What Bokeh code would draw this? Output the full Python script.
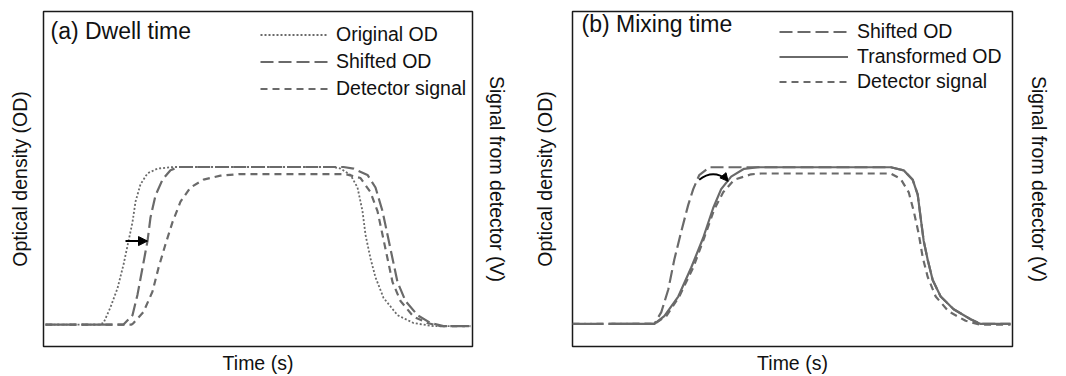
from bokeh.plotting import figure
from bokeh.layouts import row
from bokeh.models import (Range1d, LinearAxis, FixedTicker, Label, Arrow,
                          NormalHead)
from bokeh.embed import file_html
from bokeh.resources import INLINE

# ---------------- data (arbitrary time units / normalised OD) ----------------
# Panel (a) Dwell time
orig_t = [2, 55, 60, 67, 74, 80, 85, 89, 92, 97, 104, 114, 130, 290, 297, 307,
          314, 319, 322, 327, 332, 340, 354, 370, 390, 427]
orig_od = [0, 0, 0.01, 0.11, 0.23, 0.38, 0.53, 0.65, 0.78, 0.89, 0.96, 0.99,
           1.0, 1.0, 0.99, 0.95, 0.87, 0.72, 0.57, 0.42, 0.30, 0.17, 0.06,
           0.01, -0.01, -0.01]

shift_t = [2, 80, 89, 94, 99, 104, 107, 112, 119, 127, 135, 300, 310, 324,
           332, 339, 344, 349, 354, 362, 374, 387, 400, 427]
shift_od = [0, 0, 0.06, 0.19, 0.36, 0.53, 0.68, 0.82, 0.92, 0.98, 1.0, 1.0,
            0.99, 0.95, 0.87, 0.72, 0.57, 0.42, 0.27, 0.15, 0.06, 0.01,
            -0.01, -0.01]

det_t = [2, 88, 90, 100, 109, 115, 122, 129, 137, 147, 160, 177, 195, 302,
         317, 327, 334, 339, 344, 349, 357, 370, 384, 397, 427]
det_od = [0, 0, 0.01, 0.08, 0.21, 0.36, 0.51, 0.65, 0.78, 0.87, 0.92, 0.945,
          0.955, 0.955, 0.93, 0.84, 0.72, 0.57, 0.42, 0.27, 0.15, 0.05, 0.01,
          -0.01, -0.01]

arrow_a = {"t0": 82, "t1": 104, "od": 0.53}

# Panel (b) Mixing time
shiftb_t = [0, 82, 89, 96, 102, 109, 116, 121, 127, 137, 319, 332, 341, 346,
            349, 352, 356, 361, 369, 382, 399, 409, 439]
shiftb_od = [0, 0, 0.075, 0.22, 0.41, 0.59, 0.76, 0.86, 0.95, 1.0, 1.0, 0.98,
             0.92, 0.825, 0.675, 0.53, 0.41, 0.28, 0.175, 0.094, 0.03, 0.0,
             0.0]

trans_t = [39, 82, 92, 106, 119, 131, 141, 149, 159, 172, 186, 319, 332, 341,
           346, 349, 352, 356, 361, 369, 382, 399, 409, 439]
trans_od = [0, 0, 0.05, 0.175, 0.36, 0.55, 0.74, 0.86, 0.94, 0.99, 1.0, 1.0,
            0.98, 0.92, 0.825, 0.675, 0.53, 0.41, 0.28, 0.175, 0.094, 0.03,
            0.0, 0.0]

detb_t = [0, 82, 94, 107, 121, 132, 142, 151, 162, 179, 189, 319, 329, 337,
          342, 347, 351, 356, 364, 377, 394, 409, 439]
detb_od = [0, 0, 0.05, 0.175, 0.36, 0.55, 0.73, 0.84, 0.92, 0.955, 0.96, 0.96,
           0.925, 0.84, 0.72, 0.575, 0.425, 0.3, 0.175, 0.08, 0.02, -0.005,
           -0.005]

arrow_b = {"t0": 127, "t1": 155, "od": 0.92, "ct": 141, "cod": 0.99}

titles = ["(a) Dwell time", "(b) Mixing time"]
x_label = "Time (s)"
y_label_left = "Optical density (OD)"
y_label_right = "Signal from detector (V)"

# ---------------- styling ----------------
FONT = "Liberation Sans"
GREY = "#6a6a6a"
TXT = "#111111"
LBL_SIZE = "19.5px"


def make_panel(width, height, borders, xr, yr, standoffs):
    left, right, top, bottom = borders
    p = figure(width=width, height=height, x_range=Range1d(*xr),
               y_range=Range1d(*yr), output_backend="svg",
               toolbar_location=None, title=None,
               min_border_left=left, min_border_right=right,
               min_border_top=top, min_border_bottom=bottom)
    p.add_layout(LinearAxis(), "right")
    p.xgrid.visible = False
    p.ygrid.visible = False
    p.outline_line_color = "#1a1a1a"
    p.outline_line_width = 1.5
    p.background_fill_color = "white"
    p.border_fill_color = "white"
    labels = {"left": y_label_left, "right": y_label_right, "below": x_label}
    for side in ("left", "right", "below"):
        for ax in getattr(p, side):
            ax.ticker = FixedTicker(ticks=[])
            ax.axis_line_alpha = 0
            ax.major_tick_line_alpha = 0
            ax.minor_tick_line_alpha = 0
            ax.major_tick_out = 0
            ax.major_tick_in = 0
            ax.major_label_standoff = 0
            ax.axis_label = labels[side]
            ax.axis_label_text_font = FONT
            ax.axis_label_text_font_size = LBL_SIZE
            ax.axis_label_text_font_style = "normal"
            ax.axis_label_text_color = TXT
            ax.axis_label_standoff = standoffs[side]
    return p


def style_legend(p, loc, spacing, glyph_w, standoff):
    lg = p.legend[0]
    lg.location = loc
    lg.label_text_font = FONT
    lg.label_text_font_size = LBL_SIZE
    lg.label_text_color = TXT
    lg.glyph_width = glyph_w
    lg.glyph_height = 23
    lg.label_height = 23
    lg.label_standoff = standoff
    lg.spacing = spacing
    lg.padding = 0
    lg.margin = 0
    lg.border_line_alpha = 0
    lg.background_fill_alpha = 0


# ---- panel (a)
pa = make_panel(530, 376, (43, 58, 11, 29), (0, 429), (-0.139, 1.987),
                {"left": 13, "right": 13, "below": 5})
pa.line(orig_t, orig_od, line_color=GREY, line_width=1.8, line_dash="2 2",
        legend_label="Original OD")
pa.line(shift_t, shift_od, line_color=GREY, line_width=2.2, line_dash="13 5",
        legend_label="Shifted OD")
pa.line(det_t, det_od, line_color=GREY, line_width=2.2, line_dash="7 5",
        legend_label="Detector signal")
pa.add_layout(Arrow(end=NormalHead(size=9, fill_color="black",
                                   line_color="black"),
                    x_start=arrow_a["t0"], y_start=arrow_a["od"],
                    x_end=arrow_a["t1"], y_end=arrow_a["od"],
                    line_color="black", line_width=2))
pa.add_layout(Label(x=7, y=316, x_units="screen", y_units="screen",
                    text=titles[0], text_font=FONT, text_font_size="23px",
                    text_baseline="middle", text_color=TXT))
style_legend(pa, (217, 246), 4, 68, 8)

# ---- panel (b)
pb = make_panel(536, 376, (41, 54, 6, 28), (0, 441), (-0.144, 1.994),
                {"left": 17, "right": 15, "below": 5})
pb.line(shiftb_t, shiftb_od, line_color=GREY, line_width=2.2,
        line_dash="13 5", legend_label="Shifted OD")
pb.line(trans_t, trans_od, line_color=GREY, line_width=2.2,
        legend_label="Transformed OD")
pb.line(detb_t, detb_od, line_color=GREY, line_width=2.2, line_dash="7 5",
        legend_label="Detector signal")
pb.quadratic(x0=[arrow_b["t0"]], y0=[arrow_b["od"]], x1=[arrow_b["t1"]],
             y1=[arrow_b["od"]], cx=[arrow_b["ct"]], cy=[arrow_b["cod"]],
             line_color="black", line_width=2)
pb.add_layout(Arrow(end=NormalHead(size=8, fill_color="black",
                                   line_color="black"),
                    x_start=arrow_b["t1"] - 3, y_start=arrow_b["od"] + 0.02,
                    x_end=arrow_b["t1"] + 1, y_end=arrow_b["od"] - 0.01,
                    line_color="black", line_width=2))
pb.add_layout(Label(x=9, y=323, x_units="screen", y_units="screen",
                    text=titles[1], text_font=FONT, text_font_size="23px",
                    text_baseline="middle", text_color=TXT))
style_legend(pb, (207, 253), 2, 69, 9)

layout = row(pa, pb)
open("out.html", "w").write(file_html(layout, INLINE))
